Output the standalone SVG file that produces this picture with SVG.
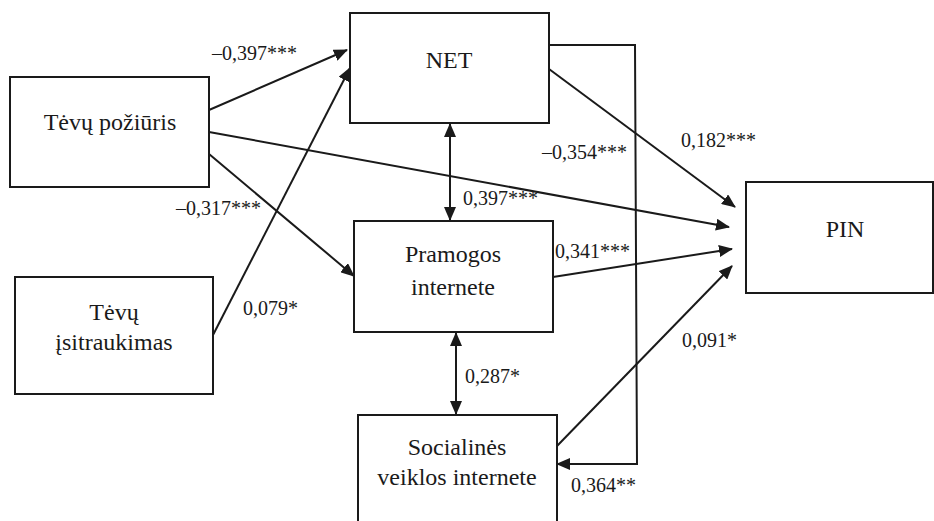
<svg xmlns="http://www.w3.org/2000/svg" width="934" height="521" viewBox="0 0 934 521">
<defs>
<style>
.box{fill:#fff;stroke:#1a1a1a;stroke-width:2}
.nt{font-family:"Liberation Serif","Times New Roman",serif;font-size:24px;fill:#1a1a1a;text-anchor:middle}
.lb{font-family:"Liberation Serif","Times New Roman",serif;font-size:20px;fill:#1a1a1a}
.ln{fill:none;stroke:#1a1a1a;stroke-width:2}
.ar{marker-end:url(#ah)}
.bi{marker-end:url(#ah);marker-start:url(#ah)}
</style>
<marker id="ah" markerUnits="userSpaceOnUse" markerWidth="14" markerHeight="12" viewBox="0 0 14 12" refX="13" refY="6" orient="auto-start-reverse">
<path d="M0,0 L14,6 L0,12 z" fill="#1a1a1a"/>
</marker>
</defs>
<rect width="934" height="521" fill="#fff"/>
<g id="connectors">
<line class="ln ar" x1="209" y1="110" x2="347" y2="50"/>
<line class="ln ar" x1="213" y1="335" x2="350" y2="68"/>
<line class="ln ar" x1="209" y1="154" x2="354" y2="276"/>
<line class="ln ar" x1="209" y1="132" x2="729" y2="227"/>
<line class="ln ar" x1="549" y1="69" x2="735" y2="207"/>
<line class="ln ar" x1="553" y1="277" x2="732" y2="249"/>
<line class="ln ar" x1="557" y1="446" x2="732" y2="266"/>
<polyline class="ln ar" points="549,45 635,45 637,464 557,464"/>
<line class="ln bi" x1="450" y1="124" x2="450" y2="220"/>
<line class="ln bi" x1="456" y1="333" x2="456" y2="414"/>
</g>
<g id="labels">
<text class="lb" x="212" y="60">–0,397***</text>
<text class="lb" x="243" y="315">0,079*</text>
<text class="lb" x="176" y="215">–0,317***</text>
<text class="lb" x="681" y="147">0,182***</text>
<text class="lb" x="542" y="159">–0,354***</text>
<text class="lb" x="463" y="205">0,397***</text>
<text class="lb" x="555" y="258">0,341***</text>
<text class="lb" x="682" y="347">0,091*</text>
<text class="lb" x="465" y="383">0,287*</text>
<text class="lb" x="571" y="492">0,364**</text>
</g>
<g id="node-tevu-poziuris">
<rect class="box" x="10" y="77" width="199" height="110"/>
<text class="nt" x="110" y="130">Tėvų požiūris</text>
</g>
<g id="node-tevu-isitraukimas">
<rect class="box" x="15" y="277" width="198" height="117"/>
<text class="nt" x="114" y="320">Tėvų</text>
<text class="nt" x="114" y="350">įsitraukimas</text>
</g>
<g id="node-net">
<rect class="box" x="350" y="13" width="199" height="110"/>
<text class="nt" x="449" y="68">NET</text>
</g>
<g id="node-pramogos">
<rect class="box" x="354" y="221" width="199" height="111"/>
<text class="nt" x="453" y="262">Pramogos</text>
<text class="nt" x="453" y="295">internete</text>
</g>
<g id="node-socialines">
<rect class="box" x="358" y="415" width="199" height="112"/>
<text class="nt" x="457" y="455">Socialinės</text>
<text class="nt" x="457" y="485">veiklos internete</text>
</g>
<g id="node-pin">
<rect class="box" x="746" y="182" width="187" height="111"/>
<text class="nt" x="845" y="237">PIN</text>
</g>
</svg>
